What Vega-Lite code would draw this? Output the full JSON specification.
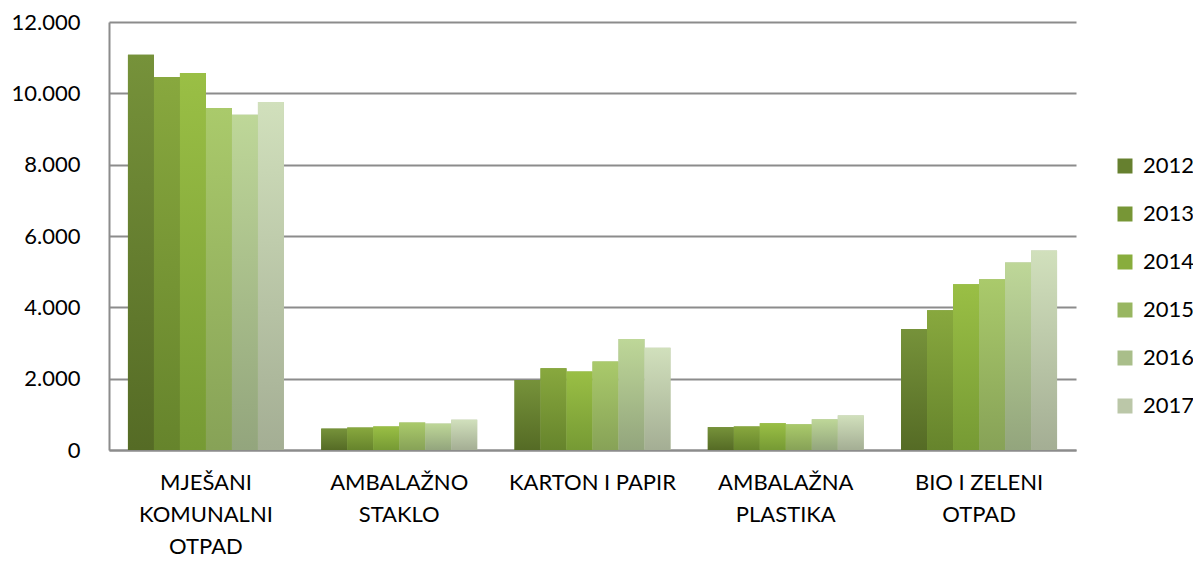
{
  "$schema": "https://vega.github.io/schema/vega-lite/v6.json",
  "autosize": "none",
  "width": 967,
  "height": 428,
  "padding": {"left": 109, "top": 22, "right": 117, "bottom": 111},
  "background": "white",
  "config": {"font": "Lato", "view": {"stroke": null}},
  "data": {
    "values": [
      {"Vrsta": "MJEŠANI KOMUNALNI OTPAD", "Godina": "2012", "Kolicina": 11080},
      {"Vrsta": "MJEŠANI KOMUNALNI OTPAD", "Godina": "2013", "Kolicina": 10460},
      {"Vrsta": "MJEŠANI KOMUNALNI OTPAD", "Godina": "2014", "Kolicina": 10570},
      {"Vrsta": "MJEŠANI KOMUNALNI OTPAD", "Godina": "2015", "Kolicina": 9590},
      {"Vrsta": "MJEŠANI KOMUNALNI OTPAD", "Godina": "2016", "Kolicina": 9400},
      {"Vrsta": "MJEŠANI KOMUNALNI OTPAD", "Godina": "2017", "Kolicina": 9760},
      {"Vrsta": "AMBALAŽNO STAKLO", "Godina": "2012", "Kolicina": 600},
      {"Vrsta": "AMBALAŽNO STAKLO", "Godina": "2013", "Kolicina": 630},
      {"Vrsta": "AMBALAŽNO STAKLO", "Godina": "2014", "Kolicina": 660},
      {"Vrsta": "AMBALAŽNO STAKLO", "Godina": "2015", "Kolicina": 770},
      {"Vrsta": "AMBALAŽNO STAKLO", "Godina": "2016", "Kolicina": 740},
      {"Vrsta": "AMBALAŽNO STAKLO", "Godina": "2017", "Kolicina": 850},
      {"Vrsta": "KARTON I PAPIR", "Godina": "2012", "Kolicina": 1960},
      {"Vrsta": "KARTON I PAPIR", "Godina": "2013", "Kolicina": 2290},
      {"Vrsta": "KARTON I PAPIR", "Godina": "2014", "Kolicina": 2200},
      {"Vrsta": "KARTON I PAPIR", "Godina": "2015", "Kolicina": 2480},
      {"Vrsta": "KARTON I PAPIR", "Godina": "2016", "Kolicina": 3110},
      {"Vrsta": "KARTON I PAPIR", "Godina": "2017", "Kolicina": 2870},
      {"Vrsta": "AMBALAŽNA PLASTIKA", "Godina": "2012", "Kolicina": 640},
      {"Vrsta": "AMBALAŽNA PLASTIKA", "Godina": "2013", "Kolicina": 660},
      {"Vrsta": "AMBALAŽNA PLASTIKA", "Godina": "2014", "Kolicina": 750},
      {"Vrsta": "AMBALAŽNA PLASTIKA", "Godina": "2015", "Kolicina": 720},
      {"Vrsta": "AMBALAŽNA PLASTIKA", "Godina": "2016", "Kolicina": 860},
      {"Vrsta": "AMBALAŽNA PLASTIKA", "Godina": "2017", "Kolicina": 970},
      {"Vrsta": "BIO I ZELENI OTPAD", "Godina": "2012", "Kolicina": 3390},
      {"Vrsta": "BIO I ZELENI OTPAD", "Godina": "2013", "Kolicina": 3920},
      {"Vrsta": "BIO I ZELENI OTPAD", "Godina": "2014", "Kolicina": 4650},
      {"Vrsta": "BIO I ZELENI OTPAD", "Godina": "2015", "Kolicina": 4790},
      {"Vrsta": "BIO I ZELENI OTPAD", "Godina": "2016", "Kolicina": 5260},
      {"Vrsta": "BIO I ZELENI OTPAD", "Godina": "2017", "Kolicina": 5590}
    ]
  },
  "encoding": {
    "x": {
      "field": "Vrsta",
      "type": "nominal",
      "sort": ["MJEŠANI KOMUNALNI OTPAD", "AMBALAŽNO STAKLO", "KARTON I PAPIR", "AMBALAŽNA PLASTIKA", "BIO I ZELENI OTPAD"],
      "scale": {"paddingInner": 0.193, "paddingOuter": 0.098},
      "axis": {
        "title": null,
        "labelAngle": 0,
        "labelFontSize": 22,
        "labelColor": "#000000",
        "labelLineHeight": 32,
        "labelPadding": 22,
        "labelLimit": 400,
        "ticks": false,
        "tickSize": 0,
        "domain": true,
        "domainColor": "#8c8c8c",
        "domainWidth": 2,
        "labelExpr": "datum.value == 'MJEŠANI KOMUNALNI OTPAD' ? ['MJEŠANI','KOMUNALNI','OTPAD'] : datum.value == 'AMBALAŽNO STAKLO' ? ['AMBALAŽNO','STAKLO'] : datum.value == 'AMBALAŽNA PLASTIKA' ? ['AMBALAŽNA','PLASTIKA'] : datum.value == 'BIO I ZELENI OTPAD' ? ['BIO I ZELENI','OTPAD'] : datum.value"
      }
    },
    "xOffset": {"field": "Godina", "type": "nominal", "sort": ["2012", "2013", "2014", "2015", "2016", "2017"], "scale": {"paddingInner": 0, "paddingOuter": 0}},
    "y": {
      "field": "Kolicina",
      "type": "quantitative",
      "scale": {"domain": [0, 12000], "nice": false},
      "axis": {
        "title": null,
        "values": [0, 2000, 4000, 6000, 8000, 10000, 12000],
        "labelExpr": "replace(format(datum.value, ','), ',', '.')",
        "labelFontSize": 22,
        "labelColor": "#000000",
        "labelPadding": 29,
        "ticks": false,
        "tickSize": 0,
        "domain": true,
        "domainColor": "#8c8c8c",
        "domainWidth": 2,
        "grid": true,
        "gridColor": "#8c8c8c",
        "gridWidth": 2
      }
    }
  },
  "layer": [
    {
      "mark": {"type": "bar"},
      "encoding": {
        "color": {
          "field": "Godina",
          "type": "nominal",
          "scale": {
            "domain": ["2012", "2013", "2014", "2015", "2016", "2017"],
            "range": ["#66802f", "#779636", "#88ad3d", "#98b661", "#a9be8a", "#bbc7a8"]
          },
          "legend": {
            "title": null,
            "orient": "none",
            "legendX": 1005,
            "legendY": 133,
            "padding": 0,
            "symbolType": "square",
            "symbolSize": 225,
            "symbolStrokeWidth": 0,
            "labelFontSize": 22,
            "labelColor": "#000000",
            "labelOffset": 7,
            "rowPadding": 26
          }
        }
      }
    },
    {
      "transform": [{"filter": "datum.Godina == '2012'"}],
      "mark": {"type": "bar", "color": {"gradient": "linear", "x1": 0, "y1": 0, "x2": 0, "y2": 1, "stops": [{"offset": 0, "color": "#76923a"}, {"offset": 1, "color": "#556b25"}]}}
    },
    {
      "transform": [{"filter": "datum.Godina == '2013'"}],
      "mark": {"type": "bar", "color": {"gradient": "linear", "x1": 0, "y1": 0, "x2": 0, "y2": 1, "stops": [{"offset": 0, "color": "#88a83e"}, {"offset": 1, "color": "#66842c"}]}}
    },
    {
      "transform": [{"filter": "datum.Godina == '2014'"}],
      "mark": {"type": "bar", "color": {"gradient": "linear", "x1": 0, "y1": 0, "x2": 0, "y2": 1, "stops": [{"offset": 0, "color": "#9abf45"}, {"offset": 1, "color": "#769a34"}]}}
    },
    {
      "transform": [{"filter": "datum.Godina == '2015'"}],
      "mark": {"type": "bar", "color": {"gradient": "linear", "x1": 0, "y1": 0, "x2": 0, "y2": 1, "stops": [{"offset": 0, "color": "#aaca6b"}, {"offset": 1, "color": "#87a257"}]}}
    },
    {
      "transform": [{"filter": "datum.Godina == '2016'"}],
      "mark": {"type": "bar", "color": {"gradient": "linear", "x1": 0, "y1": 0, "x2": 0, "y2": 1, "stops": [{"offset": 0, "color": "#bed798"}, {"offset": 1, "color": "#93a57d"}]}}
    },
    {
      "transform": [{"filter": "datum.Godina == '2017'"}],
      "mark": {"type": "bar", "color": {"gradient": "linear", "x1": 0, "y1": 0, "x2": 0, "y2": 1, "stops": [{"offset": 0, "color": "#d1e0bc"}, {"offset": 1, "color": "#a4ae94"}]}}
    }
  ]
}
